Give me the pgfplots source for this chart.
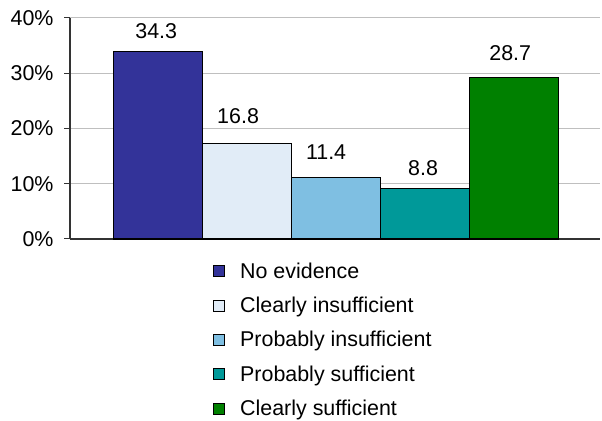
\documentclass[border=0pt]{standalone}
\usepackage{fontspec}
\setmainfont{Liberation Sans}
\usepackage{pgfplots}
\pgfplotsset{compat=1.18}
\definecolor{c1}{HTML}{333399}
\definecolor{c2}{HTML}{E1ECF7}
\definecolor{c3}{HTML}{7FBFE2}
\definecolor{c4}{HTML}{009999}
\definecolor{c5}{HTML}{008000}
\newcommand{\fs}{\fontsize{21.5}{25}\selectfont}
\pgfplotsset{mybar/.style={ybar, bar width=1, bar shift=0pt, draw=black, line width=1.2bp,
  legend image code/.code={\draw[##1, line width=1bp] (0bp,-5.5bp) rectangle (11bp,5.5bp);}}}
\begin{document}
\begin{tikzpicture}
\path (0,0) rectangle (602bp,421bp);
\begin{axis}[
  at={(70bp,182bp)}, anchor=south west,
  scale only axis, width=530bp, height=221bp,
  xmin=-0.99, xmax=4.97, ymin=0, ymax=40,
  xtick=\empty, ytick={0,10,20,30,40},
  yticklabel={\pgfmathprintnumber{\tick}\%},
  /pgf/number format/assume math mode=true,
  ticklabel style={font=\fs},
  yticklabel style={xshift=-7bp},
  tick align=outside, major tick length=6bp,
  tick style={black!80, line width=1bp},
  ymajorgrids, grid style={black!25, line width=1bp},
  axis x line*=bottom, axis y line*=left,
  axis line style={-, black!80, line width=1.2bp},
  clip=false,
  legend cell align=left,
  legend style={draw=none, fill=none, at={(axis description cs:0.2698,-0.097)}, anchor=north west,
    font=\fs, row sep=13.4bp, inner sep=0pt,
    /tikz/every odd column/.append style={column sep=13bp}},
]
\addplot[mybar, fill=c1] coordinates {(0,34.0)};
\addlegendentry{No evidence}
\addplot[mybar, fill=c2] coordinates {(1,17.3)};
\addlegendentry{Clearly insufficient}
\addplot[mybar, fill=c3] coordinates {(2,11.1)};
\addlegendentry{Probably insufficient}
\addplot[mybar, fill=c4] coordinates {(3,9.1)};
\addlegendentry{Probably sufficient}
\addplot[mybar, fill=c5] coordinates {(4,29.3)};
\addlegendentry{Clearly sufficient}
\node[font=\fs] at (axis cs:-0.02,37.6) {34.3};
\node[font=\fs] at (axis cs:0.90,22.2) {16.8};
\node[font=\fs] at (axis cs:1.89,15.8) {11.4};
\node[font=\fs] at (axis cs:2.98,12.9) {8.8};
\node[font=\fs] at (axis cs:3.96,33.6) {28.7};
\end{axis}
\end{tikzpicture}
\end{document}
